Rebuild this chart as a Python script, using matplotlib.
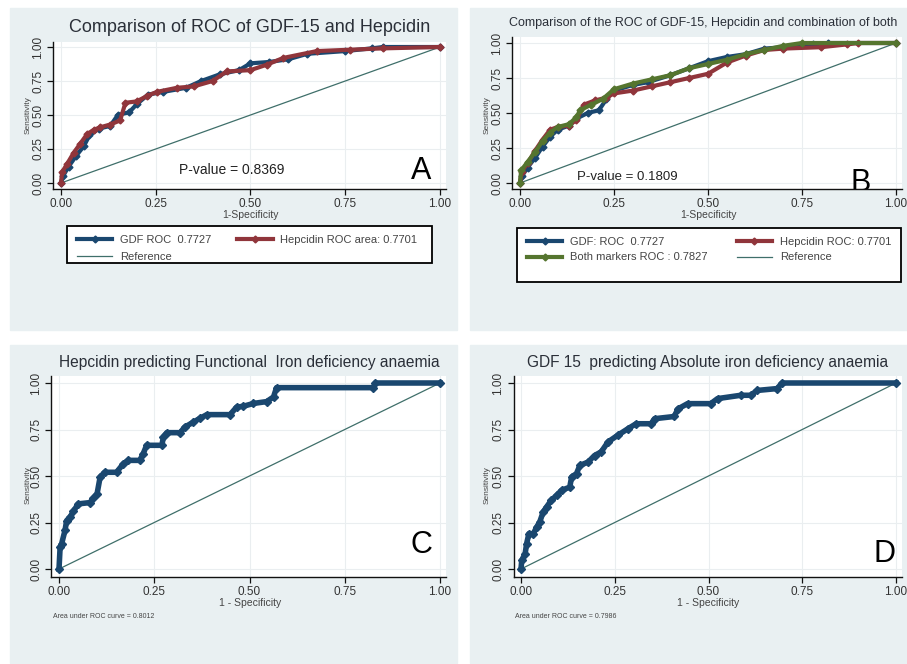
import matplotlib.pyplot as plt
from matplotlib.patches import Rectangle

# -----------------------------
# Data
# -----------------------------

# Panel A: GDF-15 vs Hepcidin
gdf_a_x = [0, 0.005, 0.02, 0.04, 0.06, 0.075, 0.10, 0.13, 0.15, 0.18, 0.20, 0.23, 0.27, 0.33,
           0.37, 0.42, 0.47, 0.50, 0.55, 0.60, 0.65, 0.75, 0.82, 0.85, 1.0]
gdf_a_y = [0, 0.05, 0.12, 0.20, 0.27, 0.35, 0.40, 0.42, 0.50, 0.52, 0.58, 0.65, 0.67, 0.70,
           0.75, 0.80, 0.83, 0.88, 0.89, 0.91, 0.95, 0.97, 0.99, 1.0, 1.0]
hep_a_x = [0, 0.003, 0.016, 0.033, 0.051, 0.069, 0.086, 0.104, 0.13, 0.156, 0.17, 0.20, 0.227,
           0.253, 0.306, 0.35, 0.40, 0.437, 0.50, 0.543, 0.587, 0.675, 0.762, 0.85, 1.0]
hep_a_y = [0, 0.08, 0.14, 0.22, 0.29, 0.36, 0.39, 0.41, 0.43, 0.46, 0.59, 0.60, 0.64,
           0.67, 0.70, 0.71, 0.75, 0.82, 0.83, 0.87, 0.92, 0.97, 0.98, 0.99, 1.0]

# Panel B: GDF-15, Hepcidin and both markers
gdf_b_x = [0, 0.005, 0.02, 0.04, 0.06, 0.08, 0.10, 0.13, 0.15, 0.18, 0.21, 0.23, 0.25, 0.30,
           0.34, 0.40, 0.45, 0.50, 0.55, 0.60, 0.65, 0.70, 0.78, 0.82, 1.0]
gdf_b_y = [0, 0.05, 0.11, 0.18, 0.26, 0.33, 0.38, 0.41, 0.46, 0.50, 0.52, 0.60, 0.66, 0.70,
           0.72, 0.77, 0.82, 0.87, 0.90, 0.92, 0.96, 0.97, 0.99, 1.0, 1.0]
hep_b_x = [0, 0.004, 0.02, 0.04, 0.06, 0.08, 0.10, 0.13, 0.15, 0.17, 0.20, 0.23, 0.25, 0.30,
           0.35, 0.40, 0.45, 0.50, 0.55, 0.60, 0.65, 0.70, 0.80, 0.87, 0.90, 1.0]
hep_b_y = [0, 0.08, 0.14, 0.23, 0.31, 0.38, 0.40, 0.41, 0.45, 0.56, 0.59, 0.61, 0.64, 0.66,
           0.69, 0.72, 0.75, 0.78, 0.86, 0.91, 0.95, 0.96, 0.97, 0.99, 1.0, 1.0]
both_b_x = [0, 0.003, 0.02, 0.04, 0.06, 0.08, 0.10, 0.13, 0.15, 0.16, 0.19, 0.22, 0.25, 0.30,
            0.35, 0.40, 0.45, 0.50, 0.55, 0.60, 0.65, 0.70, 0.75, 1.0]
both_b_y = [0, 0.09, 0.15, 0.22, 0.30, 0.36, 0.40, 0.42, 0.47, 0.52, 0.56, 0.60, 0.67, 0.71,
            0.74, 0.77, 0.82, 0.85, 0.88, 0.92, 0.95, 0.98, 1.0, 1.0]

# Panel C: Hepcidin predicting functional IDA
hep_c_x = [0, 0.003, 0.007, 0.016, 0.02, 0.029, 0.038, 0.05, 0.081, 0.09, 0.10, 0.108, 0.12,
           0.151, 0.169, 0.182, 0.212, 0.221, 0.23, 0.27, 0.274, 0.283, 0.318, 0.33, 0.353,
           0.37, 0.388, 0.449, 0.466, 0.484, 0.51, 0.545, 0.563, 0.571, 0.825, 0.83, 1.0]
hep_c_y = [0, 0.12, 0.136, 0.21, 0.26, 0.28, 0.31, 0.35, 0.357, 0.38, 0.405, 0.495, 0.52,
           0.52, 0.566, 0.584, 0.584, 0.62, 0.665, 0.665, 0.71, 0.733, 0.733, 0.763, 0.79,
           0.81, 0.83, 0.83, 0.87, 0.875, 0.89, 0.90, 0.925, 0.975, 0.975, 1.0, 1.0]

# Panel D: GDF 15 predicting absolute IDA
gdf_d_x = [0, 0.002, 0.011, 0.015, 0.021, 0.033, 0.042, 0.05, 0.059, 0.068, 0.081, 0.095,
           0.108, 0.13, 0.135, 0.148, 0.157, 0.179, 0.196, 0.214, 0.232, 0.258, 0.285, 0.307,
           0.347, 0.356, 0.409, 0.418, 0.444, 0.506, 0.524, 0.586, 0.612, 0.63, 0.683, 0.696, 1.0]
gdf_d_y = [0, 0.047, 0.082, 0.136, 0.19, 0.19, 0.226, 0.253, 0.306, 0.333, 0.37, 0.396,
           0.423, 0.44, 0.495, 0.513, 0.557, 0.575, 0.61, 0.63, 0.683, 0.719, 0.754, 0.781,
           0.781, 0.808, 0.82, 0.86, 0.889, 0.889, 0.916, 0.934, 0.934, 0.96, 0.97, 1.0, 1.0]

ticks = [0, 0.25, 0.5, 0.75, 1.0]
tick_labels = ["0.00", "0.25", "0.50", "0.75", "1.00"]

# colours (Stata s2color look)
NAVY = "#1a476f"
MAROON = "#90353b"
GREEN = "#55752f"
REF = "#3f6f6a"
BG = "#e9f0f2"
TXT = "#2a2f38"

plt.rcParams['font.family'] = ['Liberation Sans', 'DejaVu Sans']

W, H = 907, 664
fig = plt.figure(figsize=(9.07, 6.64), dpi=100)


def fx(px):
    return px / W


def fy(py):
    return 1 - py / H


def box(x0, y0, x1, y1, **kw):
    fig.add_artist(Rectangle((fx(x0), fy(y1)), fx(x1 - x0), (y1 - y0) / H,
                             transform=fig.transFigure, **kw))


# grey-blue panel backgrounds
for (x0, y0, x1, y1) in [(10, 8, 457, 330), (470, 8, 907, 330),
                         (10, 345, 457, 663), (470, 345, 907, 663)]:
    box(x0, y0, x1, y1, color=BG, zorder=0)


def make_axes(x0, x1, y1, y0):
    # x0/x1: pixel of data 0 and 1 on x; y1/y0: pixel of data 1 and 0 on y
    xlim = (-0.02, 1.015)
    ylim = (-0.045, 1.04)
    sx = x1 - x0
    sy = y0 - y1
    left = x0 + xlim[0] * sx
    right = x0 + xlim[1] * sx
    top = y0 - ylim[1] * sy
    bottom = y0 - ylim[0] * sy
    ax = fig.add_axes([fx(left), fy(bottom), (right - left) / W, (bottom - top) / H])
    ax.set_xlim(xlim)
    ax.set_ylim(ylim)
    ax.set_facecolor("white")
    for s in ["top", "right"]:
        ax.spines[s].set_visible(False)
    for s in ["left", "bottom"]:
        ax.spines[s].set_color("#111111")
        ax.spines[s].set_linewidth(1.0)
    ax.set_xticks(ticks)
    ax.set_xticklabels(tick_labels)
    ax.set_yticks(ticks)
    ax.set_yticklabels(tick_labels, rotation=90, va="center")
    ax.tick_params(labelsize=8.5, colors="#111111", labelcolor="#333333", length=4, width=0.9, pad=2.5)
    ax.grid(True, color="#eaeef0", linewidth=0.8)
    ax.set_axisbelow(True)
    ax.plot([0, 1], [0, 1], color=REF, linewidth=0.9, zorder=2)
    return ax


def roc(ax, x, y, color, label=None, lw=3.0, ms=3.5):
    ax.plot(x, y, color=color, linewidth=lw, marker="D", markersize=ms,
            markeredgecolor=color, label=label, zorder=3)


def legend(handles, x0, y0, x1, y1, colsp, rowsp):
    box(x0, y0, x1, y1, facecolor="white", edgecolor="black", linewidth=1.3, zorder=1)
    leg = fig.legend(handles, [h.get_label() for h in handles], ncol=2, loc="upper left",
                     bbox_to_anchor=(fx(x0 + 1), fy(y0)),
                     fontsize=8, frameon=False, handlelength=3.2, borderpad=0.3,
                     labelspacing=rowsp, columnspacing=colsp, handletextpad=0.7)
    for t in leg.get_texts():
        t.set_color("#444444")
    return leg


# ---------- Panel A ----------
axA = make_axes(61, 440, 47, 183)
roc(axA, gdf_a_x, gdf_a_y, NAVY, "GDF ROC  0.7727")
roc(axA, hep_a_x, hep_a_y, MAROON, "Hepcidin ROC area: 0.7701")
axA.lines[0].set_label("Reference")
axA.text(0.45, 0.095, "P-value = 0.8369", fontsize=10, ha="center", va="center", color="#222222")
axA.text(0.95, 0.09, "A", fontsize=22, ha="center", va="center", color="black")
fig.text(fx(250), fy(27), "Comparison of ROC of GDF-15 and Hepcidin", fontsize=13,
         ha="center", va="center", color=TXT)
fig.text(fx(28), fy(115), "Sensitivity", fontsize=6, rotation=90, ha="center", va="center", color="#444444")
fig.text(fx(250), fy(215), "1-Specificity", fontsize=7.5, ha="center", va="center", color="#444444")
legend([axA.lines[1], axA.lines[0], axA.lines[2]], 67, 226, 432, 263, 2.3, 0.6)

# ---------- Panel B ----------
axB = make_axes(520, 896, 43, 183)
roc(axB, gdf_b_x, gdf_b_y, NAVY, "GDF: ROC  0.7727")
roc(axB, hep_b_x, hep_b_y, MAROON, "Hepcidin ROC: 0.7701")
roc(axB, both_b_x, both_b_y, GREEN, "Both markers ROC : 0.7827")
axB.lines[0].set_label("Reference")
axB.text(0.285, 0.045, "P-value = 0.1809", fontsize=9.5, ha="center", va="center", color="#222222")
axB.text(0.907, 0.0, "B", fontsize=22, ha="center", va="center", color="black", clip_on=True)
fig.text(fx(703), fy(23), "Comparison of the ROC of GDF-15, Hepcidin and combination of both",
         fontsize=9, ha="center", va="center", color=TXT)
fig.text(fx(487), fy(115), "Sensitivity", fontsize=6, rotation=90, ha="center", va="center", color="#444444")
fig.text(fx(708), fy(215), "1-Specificity", fontsize=7.5, ha="center", va="center", color="#444444")
legend([axB.lines[1], axB.lines[3], axB.lines[2], axB.lines[0]], 517, 228, 901, 282, 2.6, 0.5)

# ---------- Panel C ----------
axC = make_axes(59, 440, 383, 569)
roc(axC, hep_c_x, hep_c_y, NAVY, lw=4.0, ms=4)
axC.text(0.95, 0.13, "C", fontsize=22, ha="center", va="center", color="black")
fig.text(fx(249), fy(363), "Hepcidin predicting Functional  Iron deficiency anaemia",
         fontsize=11.2, ha="center", va="center", color=TXT)
fig.text(fx(28), fy(485), "Sensitivity", fontsize=6, rotation=90, ha="center", va="center", color="#444444")
fig.text(fx(250), fy(603), "1 - Specificity", fontsize=7.5, ha="center", va="center", color="#444444")
fig.text(fx(53), fy(617), "Area under ROC curve = 0.8012", fontsize=5, ha="left", va="center", color="#444444")

# ---------- Panel D ----------
axD = make_axes(521, 896, 383, 569)
roc(axD, gdf_d_x, gdf_d_y, NAVY, lw=4.0, ms=4)
axD.text(0.97, 0.08, "D", fontsize=22, ha="center", va="center", color="black")
fig.text(fx(708), fy(363), "GDF 15  predicting Absolute iron deficiency anaemia",
         fontsize=11.2, ha="center", va="center", color=TXT)
fig.text(fx(487), fy(485), "Sensitivity", fontsize=6, rotation=90, ha="center", va="center", color="#444444")
fig.text(fx(708), fy(603), "1 - Specificity", fontsize=7.5, ha="center", va="center", color="#444444")
fig.text(fx(515), fy(617), "Area under ROC curve = 0.7986", fontsize=5, ha="left", va="center", color="#444444")

fig.savefig("out.png", dpi=100)
